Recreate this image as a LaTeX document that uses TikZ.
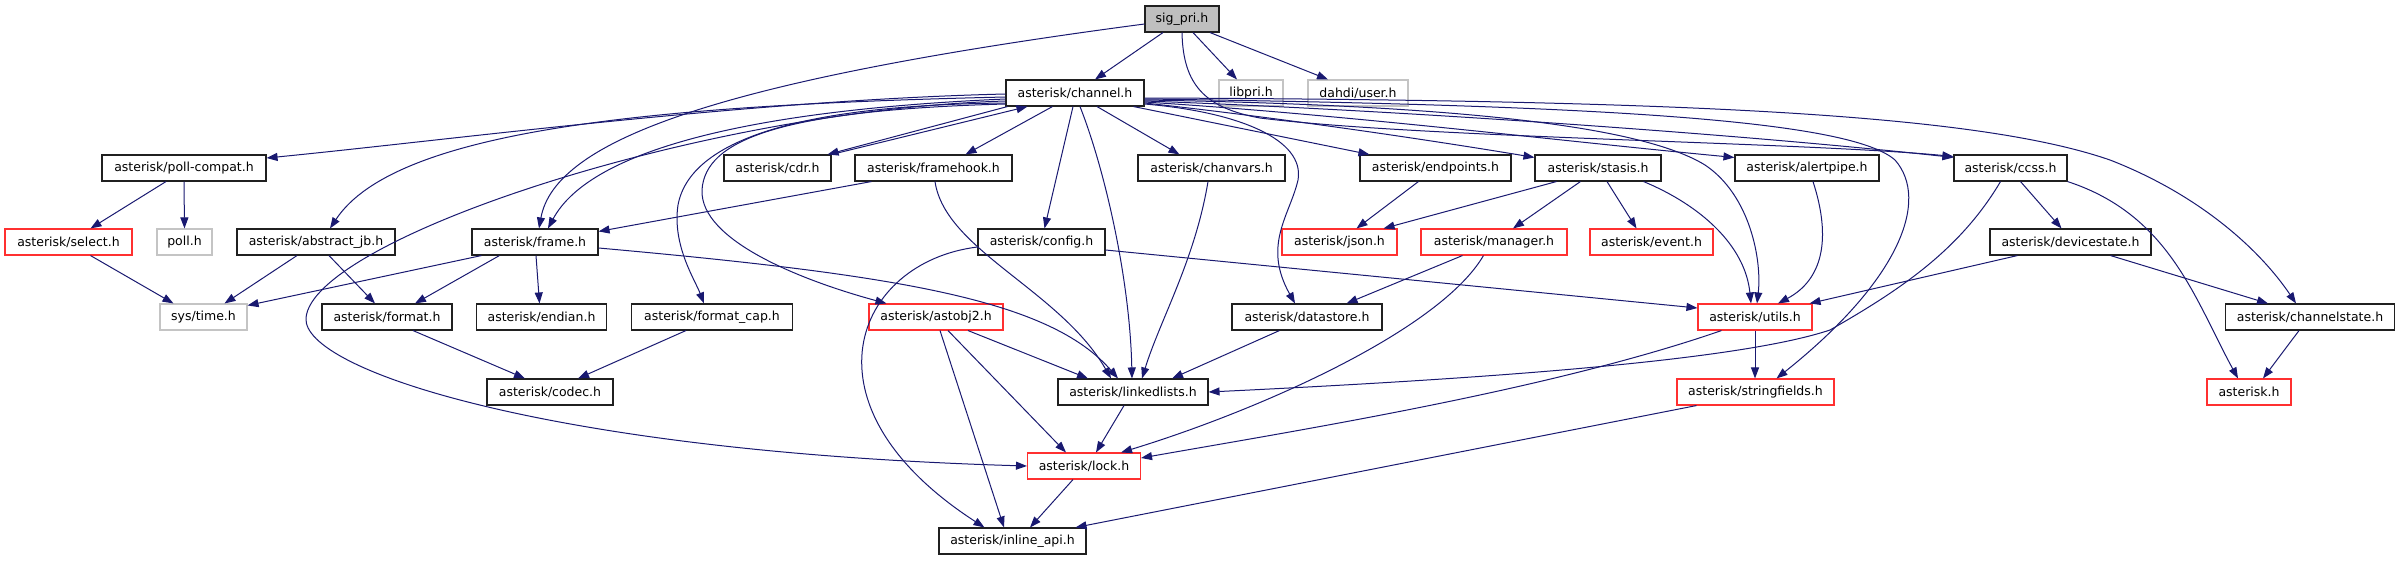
\documentclass[tikz,border=0pt]{standalone}
\usepackage{fontspec}
\setmainfont{DejaVu Sans}
\usetikzlibrary{arrows.meta}
\definecolor{eblue}{HTML}{191970}
\definecolor{tred}{HTML}{FF3030}
\definecolor{sysgray}{HTML}{C4C4C4}
\definecolor{mainfill}{HTML}{BFBFBF}
\definecolor{bdark}{HTML}{202020}
\begin{document}
\begin{tikzpicture}[x=1pt,y=-1pt,
  box/.style={draw=bdark,line width=1.1pt,minimum height=26pt,inner sep=0pt,fill=white,font=\fontsize{12.5}{15}\selectfont},
  trunc/.style={box,draw=tred},
  sysbox/.style={box,draw=sysgray},
  mainbox/.style={box,fill=mainfill},
  e/.style={draw=eblue,line width=1pt,-{Triangle[length=11pt,width=8pt]}}]
\useasboundingbox (0,0) rectangle (2406,560);
% row 0/1
\node[mainbox,minimum width=74pt] (sigpri) at (1182,19) {sig\_pri.h};
\node[box,minimum width=138pt] (channel) at (1075,93) {asterisk/channel.h};
\node[sysbox,minimum width=64pt] (libpri) at (1251,93) {libpri.h};
\node[sysbox,minimum width=100pt] (dahdi) at (1358,93) {dahdi/user.h};
% row 2
\node[box,minimum width=164pt] (pollcompat) at (184,168) {asterisk/poll-compat.h};
\node[box,minimum width=107pt] (cdr) at (777.5,168) {asterisk/cdr.h};
\node[box,minimum width=157pt] (framehook) at (933.5,168) {asterisk/framehook.h};
\node[box,minimum width=147pt] (chanvars) at (1211.5,168) {asterisk/chanvars.h};
\node[box,minimum width=151pt] (endpoints) at (1435.5,168) {asterisk/endpoints.h};
\node[box,minimum width=126pt] (stasis) at (1598,168) {asterisk/stasis.h};
\node[box,minimum width=144pt] (alertpipe) at (1807,168) {asterisk/alertpipe.h};
\node[box,minimum width=113pt] (ccss) at (2010.5,168) {asterisk/ccss.h};
% row 3
\node[trunc,minimum width=127pt] (select) at (68.5,242) {asterisk/select.h};
\node[sysbox,minimum width=55pt] (poll) at (184.5,242) {poll.h};
\node[box,minimum width=158pt] (abstractjb) at (316,242) {asterisk/abstract\_jb.h};
\node[box,minimum width=126pt] (frame) at (535,242) {asterisk/frame.h};
\node[box,minimum width=127pt] (config) at (1041.5,242) {asterisk/config.h};
\node[trunc,minimum width=115pt] (json) at (1339.5,242) {asterisk/json.h};
\node[trunc,minimum width=146pt] (manager) at (1494,242) {asterisk/manager.h};
\node[trunc,minimum width=123pt] (event) at (1651.5,242) {asterisk/event.h};
\node[box,minimum width=161pt] (devicestate) at (2070.5,242) {asterisk/devicestate.h};
% row 4
\node[sysbox,minimum width=87pt] (systime) at (203.5,317) {sys/time.h};
\node[box,minimum width=130pt] (format) at (387,317) {asterisk/format.h};
\node[box,minimum width=130pt] (endian) at (541.5,317) {asterisk/endian.h};
\node[box,minimum width=161pt] (formatcap) at (712,317) {asterisk/format\_cap.h};
\node[trunc,minimum width=134pt] (astobj2) at (936,317) {asterisk/astobj2.h};
\node[box,minimum width=150pt] (datastore) at (1307,317) {asterisk/datastore.h};
\node[trunc,minimum width=114pt] (utils) at (1755,317) {asterisk/utils.h};
\node[box,minimum width=169pt] (channelstate) at (2310,317) {asterisk/channelstate.h};
% row 5
\node[box,minimum width=126pt] (codec) at (550,392) {asterisk/codec.h};
\node[box,minimum width=150pt] (linkedlists) at (1133,392) {asterisk/linkedlists.h};
\node[trunc,minimum width=157pt] (stringfields) at (1755.5,392) {asterisk/stringfields.h};
\node[trunc,minimum width=84pt] (asteriskh) at (2249,392) {asterisk.h};
% row 6/7
\node[trunc,minimum width=113pt] (lock) at (1084,466) {asterisk/lock.h};
\node[box,minimum width=147pt] (inlineapi) at (1012.5,541) {asterisk/inline\_api.h};

% ---- edges from sig_pri.h
\draw[e] ([xshift=-19pt]sigpri.south) -- ([xshift=20pt]channel.north);
\draw[e] ([xshift=11pt]sigpri.south) -- ([xshift=-14pt]libpri.north);
\draw[e] ([xshift=28pt]sigpri.south) -- ([xshift=-30pt]dahdi.north);
\draw[e] ([yshift=-5pt]sigpri.west) .. controls (720,80) and (555,140) .. ([xshift=4pt]frame.north);
\draw[e] (sigpri.south) .. controls (1183,85) and (1205,108) .. (1260,118) .. controls (1420,138) and (1800,142) .. ([yshift=-2pt]ccss.north west);

% ---- edges from channel.h (left side)
\draw[e] ([yshift=-1pt]channel.west) .. controls (750,100) and (450,140) .. ([yshift=10pt]pollcompat.east);
\draw[e] ([yshift=-4pt]channel.west) .. controls (650,105) and (395,130) .. ([xshift=14pt]abstractjb.north);
\draw[e] ([yshift=-6pt]channel.west) .. controls (750,110) and (590,150) .. ([xshift=13pt]frame.north);
\draw[e] ([yshift=-8pt]channel.west) .. controls (700,110) and (312,240) .. (306,318) .. controls (302,370) and (550,452) .. (lock.west);
\draw[e] ([yshift=-10pt]channel.west) .. controls (800,105) and (690,140) .. (678,205) .. controls (672,245) and (695,280) .. ([xshift=-8pt]formatcap.north);
\draw[e] ([yshift=-11pt]channel.west) .. controls (780,110) and (705,140) .. (702,190) .. controls (700,240) and (800,280) .. ([xshift=18pt]astobj2.north west);
\draw[e] ([xshift=2pt]channel.south west) -- ([xshift=-4pt]cdr.north east);
\draw[e] (cdr.north east) -- ([xshift=22pt]channel.south west);
\draw[e] ([xshift=47pt]channel.south west) -- ([xshift=32pt]framehook.north);
\draw[e] ([xshift=-2pt]channel.south) -- ([xshift=3pt]config.north);
\draw[e] ([xshift=5pt]channel.south) .. controls (1105,170) and (1130,280) .. ([xshift=-1pt]linkedlists.north);
\draw[e] ([xshift=22pt]channel.south) -- ([xshift=42pt]chanvars.north west);
\draw[e] ([xshift=-11pt]channel.south east) -- ([xshift=10pt]endpoints.north west);

% ---- edges from channel.h (right side bundle)
\draw[e] ([yshift=-10pt]channel.east) .. controls (1300,120) and (1460,145) .. ([yshift=-3pt]stasis.north west);
\draw[e] ([yshift=-9pt]channel.east) .. controls (1350,115) and (1550,140) .. ([yshift=-3pt]alertpipe.north west);
\draw[e] ([yshift=-8pt]channel.east) .. controls (1400,110) and (1750,135) .. ([yshift=-3pt]ccss.north west);
\draw[e] ([yshift=-7pt]channel.east) .. controls (1450,105) and (1640,125) .. (1705,165) .. controls (1750,195) and (1762,260) .. ([xshift=2pt]utils.north);
\draw[e] ([yshift=-6pt]channel.east) .. controls (1600,105) and (1850,120) .. (1895,160) .. controls (1930,200) and (1900,280) .. ([xshift=21pt]stringfields.north);
\draw[e] ([yshift=-5pt]channel.east) .. controls (1700,100) and (1980,115) .. (2110,160) .. controls (2200,195) and (2260,250) .. ([xshift=-14pt]channelstate.north);
\draw[e] ([yshift=-11pt]channel.east) .. controls (1240,112) and (1305,140) .. (1298,180) .. controls (1290,215) and (1262,245) .. ([xshift=-12pt]datastore.north);

% ---- row 2 sources
\draw[e] ([xshift=-18pt]pollcompat.south) -- ([xshift=22pt]select.north);
\draw[e] (pollcompat.south) -- (poll.north);
\draw[e] ([xshift=17pt]framehook.south west) -- ([yshift=-3pt]frame.north east);
\draw[e] ([xshift=1.5pt]framehook.south) .. controls (945,250) and (1060,290) .. ([xshift=-22pt]linkedlists.north);
\draw[e] ([xshift=-3.5pt]chanvars.south) .. controls (1195,260) and (1160,320) .. ([xshift=9pt]linkedlists.north);
\draw[e] ([xshift=59pt]endpoints.south west) -- ([xshift=17pt]json.north);
\draw[e] ([xshift=22pt]stasis.south west) -- ([xshift=-14pt]json.north east);
\draw[e] ([xshift=46pt]stasis.south west) -- ([xshift=19pt]manager.north);
\draw[e] ([xshift=9pt]stasis.south) -- ([xshift=-15pt]event.north);
\draw[e] ([xshift=-18pt]stasis.south east) .. controls (1700,205) and (1745,245) .. ([xshift=-4pt]utils.north);
\draw[e] ([xshift=6pt]alertpipe.south) .. controls (1832,240) and (1822,280) .. ([xshift=23pt]utils.north);
\draw[e] ([xshift=10pt]ccss.south) -- ([xshift=-9pt]devicestate.north);
\draw[e] ([xshift=-10pt]ccss.south) .. controls (1960,250) and (1900,290) .. (1830,330) .. controls (1740,360) and (1500,378) .. (linkedlists.east);
\draw[e] (ccss.south east) .. controls (2170,215) and (2195,300) .. ([xshift=-11pt]asteriskh.north);

% ---- row 3 sources
\draw[e] ([xshift=22pt]select.south) -- ([xshift=-30pt]systime.north);
\draw[e] ([xshift=-19pt]abstractjb.south) -- ([xshift=21pt]systime.north);
\draw[e] ([xshift=13pt]abstractjb.south) -- ([xshift=-12pt]format.north);
\draw[e] ([xshift=10pt]frame.south west) -- ([yshift=-2pt]systime.north east);
\draw[e] ([xshift=28pt]frame.south west) -- ([xshift=28pt]format.north);
\draw[e] ([xshift=1pt]frame.south) -- ([xshift=-2pt]endian.north);
\draw[e] ([yshift=-6pt]frame.east) .. controls (900,275) and (1050,300) .. ([xshift=-15pt]linkedlists.north);
\draw[e] ([yshift=-8pt]config.east) -- ([yshift=9pt]utils.west);
\draw[e] ([yshift=-5pt]config.west) .. controls (855,262) and (795,405) .. ([xshift=46pt]inlineapi.north west);
\draw[e] ([xshift=42pt]manager.south west) -- ([xshift=-36pt]datastore.north east);
\draw[e] ([xshift=63pt]manager.south west) .. controls (1440,330) and (1260,410) .. ([xshift=-20pt]lock.north east);
\draw[e] ([xshift=40pt]devicestate.south) -- ([xshift=-42pt]channelstate.north);
\draw[e] ([xshift=28pt]devicestate.south west) -- ([xshift=-3pt]utils.north east);

% ---- row 4 sources
\draw[e] ([xshift=26pt]format.south) -- ([xshift=-25pt]codec.north);
\draw[e] ([xshift=55pt]formatcap.south west) -- ([xshift=28pt]codec.north);
\draw[e] ([xshift=32pt]astobj2.south) -- ([xshift=-45pt]linkedlists.north);
\draw[e] ([xshift=12pt]astobj2.south) -- ([xshift=-18pt]lock.north);
\draw[e] ([xshift=4pt]astobj2.south) -- ([xshift=-8.5pt]inlineapi.north);
\draw[e] ([xshift=48pt]datastore.south west) -- ([xshift=39pt]linkedlists.north);
\draw[e] (utils.south) -- ([xshift=-0.5pt]stringfields.north);
\draw[e] ([xshift=24pt]utils.south west) .. controls (1550,390) and (1300,430) .. ([yshift=8pt]lock.east);
\draw[e] ([xshift=-11pt]channelstate.south) -- ([xshift=14pt]asteriskh.north);

% ---- rows 5/6 sources
\draw[e] ([xshift=-9pt]linkedlists.south) -- ([xshift=12pt]lock.north);
\draw[e] ([xshift=20pt]stringfields.south west) -- ([xshift=-11pt]inlineapi.north east);
\draw[e] ([xshift=-11pt]lock.south) -- ([xshift=17.5pt]inlineapi.north);
\end{tikzpicture}
\end{document}
